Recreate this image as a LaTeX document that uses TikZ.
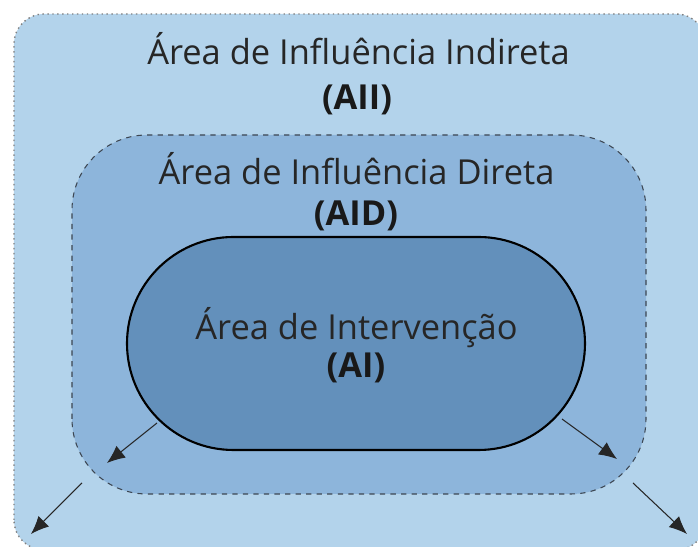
\documentclass[tikz,border=0pt]{standalone}
\usepackage{fontspec}
\setmainfont{Open Sans}
\usetikzlibrary{arrows.meta}
\definecolor{aiicolor}{RGB}{179,211,235}
\definecolor{aidcolor}{RGB}{141,181,219}
\definecolor{aicolor}{RGB}{99,144,187}
\definecolor{edgegray}{RGB}{60,70,82}
\tikzset{
    areatext/.style={anchor=base,inner sep=0pt,font=\fontsize{19.6}{23}\selectfont,text=black!85},
    acrotext/.style={anchor=base,inner sep=0pt,font=\fontsize{19.6}{23}\selectfont\bfseries,text=black!90},
    spread/.style={-{Latex[length=3.6mm,width=3mm]},line width=0.6pt,black!85}
}
\begin{document}
\begin{tikzpicture}
        \useasboundingbox (0,0) rectangle (13.96,10.94);
        \clip (0,0) rectangle (13.96,10.94);
        % areas
        \draw[fill=aiicolor,draw=gray,dotted,line width=0.8pt,rounded corners=0.6cm]
            (0.28,-0.06) rectangle (14.12,10.66);
        \draw[fill=aidcolor,draw=edgegray,dashed,line width=0.6pt,rounded corners=1.5cm]
            (1.44,1.06) rectangle (12.92,8.24);
        \draw[fill=aicolor,draw=black,line width=1.2pt,rounded corners=2.13cm]
            (2.54,1.94) rectangle (11.70,6.20);
        % labels
        \node[areatext] (aii) at (7.17,9.64) {Área de Influência Indireta};
        \node[acrotext] (aiiacro) at (7.14,8.74) {(AII)};
        \node[areatext] (aid) at (7.13,7.24) {Área de Influência Direta};
        \node[acrotext] (aidacro) at (7.12,6.42) {(AID)};
        \node[areatext] (ai) at (7.13,4.14) {Área de Intervenção};
        \node[acrotext] (aiacro) at (7.12,3.38) {(AI)};
        % arrows
        \coordinate (s1) at (3.14,2.48);
        \coordinate (e1) at (2.14,1.68);
        \coordinate (s2) at (1.64,1.28);
        \coordinate (e2) at (0.62,0.26);
        \coordinate (s3) at (11.24,2.56);
        \coordinate (e3) at (12.34,1.76);
        \coordinate (s4) at (12.66,1.28);
        \coordinate (e4) at (13.74,0.26);
        \foreach \i in {1,...,4}
            \draw[spread] (s\i) -- (e\i);
    \end{tikzpicture}
\end{document}
